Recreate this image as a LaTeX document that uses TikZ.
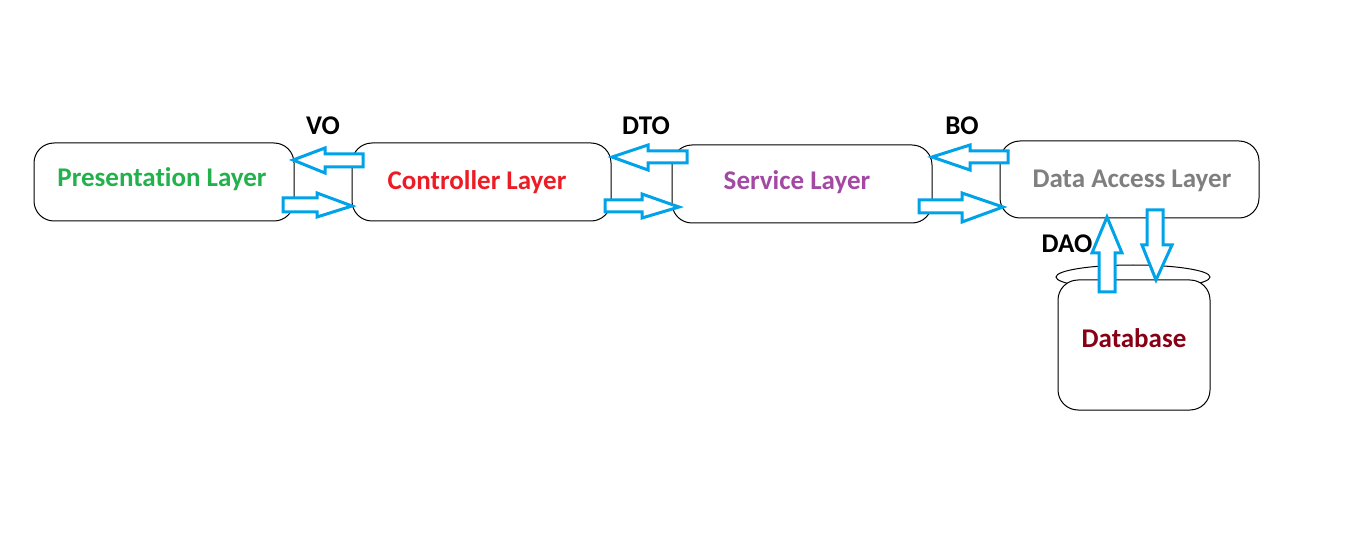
\documentclass[tikz,border=0pt]{standalone}
\usepackage{fontspec}
\setmainfont{Carlito}[Ligatures=NoCommon]
\definecolor{pgreen}{HTML}{22B14C}
\definecolor{cred}{HTML}{ED1C24}
\definecolor{spurple}{HTML}{A349A4}
\definecolor{dgray}{HTML}{7F7F7F}
\definecolor{dbred}{HTML}{880015}
\definecolor{acyan}{HTML}{00A2E8}
\begin{document}
\begin{tikzpicture}[x=1pt,y=-1pt,
  layer/.style={draw=black,line width=1pt,rounded corners=20pt,fill=white,inner sep=0pt},
  ltext/.style={font=\bfseries\fontsize{27}{30}\selectfont},
  lbl/.style={font=\bfseries\fontsize{27}{30}\selectfont,text=black},
  blockarrow/.style={draw=acyan,line width=3pt,fill=white,line join=miter}]
\useasboundingbox (0,0) rectangle (1349,553);
% database cylinder top
\draw[line width=1pt] (1133,277) ellipse [x radius=77,y radius=12];
% boxes
\node[layer,minimum width=260pt,minimum height=78pt] (pres) at (164,182) {};
\node[layer,minimum width=259pt,minimum height=78pt] (ctrl) at (481.5,182) {};
\node[layer,minimum width=260pt,minimum height=78pt] (serv) at (802,184) {};
\node[layer,minimum width=259pt,minimum height=77pt] (dal) at (1129.5,179.5) {};
\node[layer,minimum width=152pt,minimum height=130pt] (db) at (1134,345) {};
% texts
\node[ltext,text=pgreen] (tpres) at (162,179) {Presentation Layer};
\node[ltext,text=cred] (tctrl) at (477,182) {Controller Layer};
\node[ltext,text=spurple] (tserv) at (797,182) {Service Layer};
\node[ltext,text=dgray] (tdal) at (1132,181) {Data Access Layer};
\node[ltext,text=dbred] (tdb) at (1134,338) {Database};
% labels
\node[lbl] (vo) at (323,126) {VO};
\node[lbl] (dto) at (646,126) {DTO};
\node[lbl] (bo) at (962,126) {BO};
\node[lbl] (dao) at (1067,244) {DAO};
% VO arrows
\draw[blockarrow] (363,154) -- (325,154) -- (325,148) -- (293,160) -- (325,173) -- (325,167) -- (363,167) -- cycle;
\draw[blockarrow] (283,198) -- (317,198) -- (317,193) -- (352,206) -- (317,217) -- (317,212) -- (283,212) -- cycle;
% DTO arrows
\draw[blockarrow] (687,151) -- (648,151) -- (648,145) -- (612,157) -- (648,170) -- (648,163) -- (687,163) -- cycle;
\draw[blockarrow] (605,200) -- (642,200) -- (642,194) -- (679,207) -- (642,218) -- (642,212) -- (605,212) -- cycle;
% BO arrows
\draw[blockarrow] (1008,151) -- (970,151) -- (970,145) -- (932,157) -- (970,170) -- (970,163) -- (1008,163) -- cycle;
\draw[blockarrow] (919,200) -- (962,200) -- (962,193) -- (1003,207) -- (962,222) -- (962,213) -- (919,213) -- cycle;
% DAO arrows
\draw[blockarrow] (1099,292) -- (1099,253) -- (1092,253) -- (1107,217) -- (1122,253) -- (1115,253) -- (1115,292) -- cycle;
\draw[blockarrow] (1147,210) -- (1147,245) -- (1142,245) -- (1156,280) -- (1172,245) -- (1163,245) -- (1163,210) -- cycle;
\end{tikzpicture}
\end{document}
